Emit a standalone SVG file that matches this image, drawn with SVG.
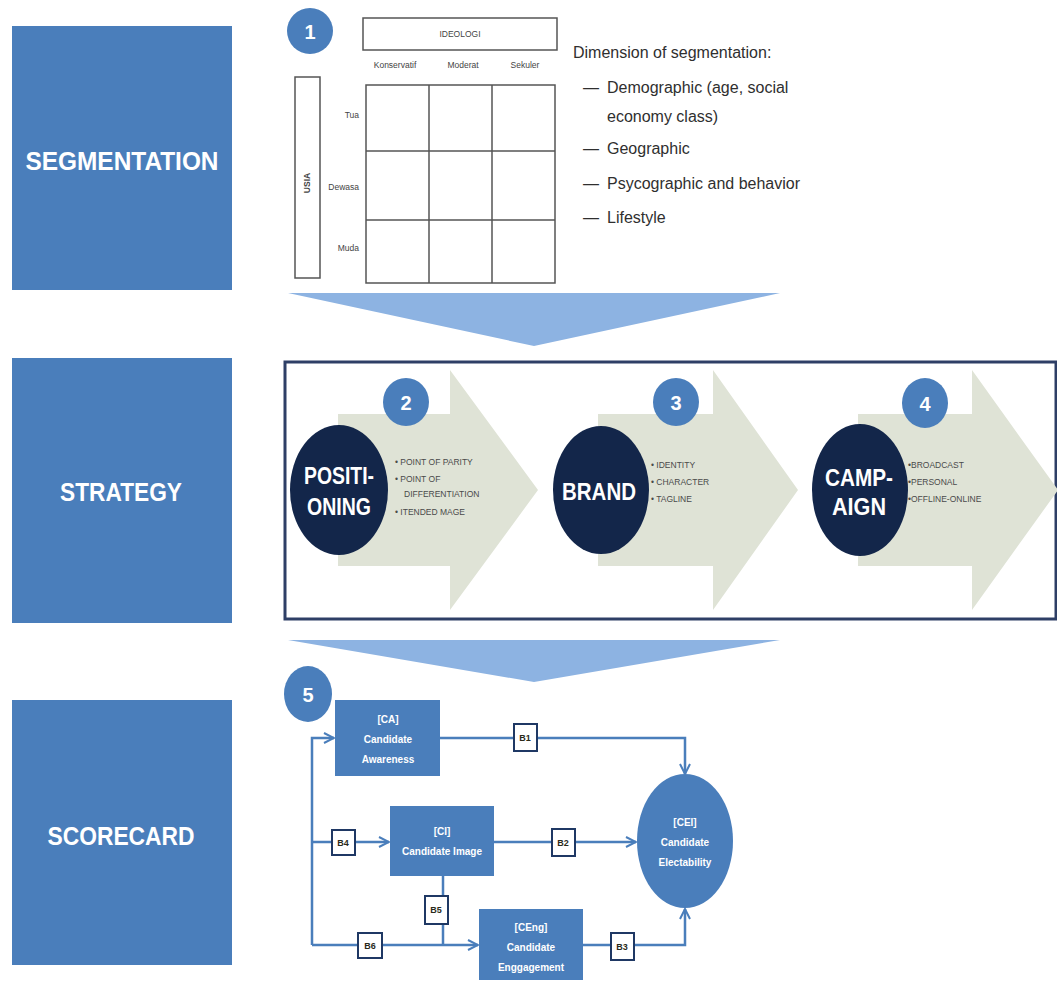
<svg xmlns="http://www.w3.org/2000/svg" width="1057" height="983" viewBox="0 0 1057 983">
  <defs>
    <style>
      .panel { fill: #4a7ebb; }
      .panel-title { font-family: "Liberation Sans", Arial, sans-serif; font-weight: bold; font-size: 25px; fill: #ffffff; text-anchor: middle; }
      .badge { fill: #4a7ebb; }
      .badge-num { font-family: "Liberation Sans", Arial, sans-serif; font-weight: bold; font-size: 20px; fill: #ffffff; text-anchor: middle; }
      .grid { fill: none; stroke: #555555; stroke-width: 1.5; }
      .tiny { font-family: "Liberation Sans", Arial, sans-serif; font-size: 8.5px; fill: #444444; }
      .dim { font-family: "Liberation Sans", Arial, sans-serif; font-size: 16px; fill: #2f2f2f; }
      .chevron { fill: #8db3e2; }
      .frame { fill: none; stroke: #2e3f66; stroke-width: 3; }
      .flow { fill: #dfe3d6; }
      .disc { fill: #13264a; }
      .disc-text { font-family: "Liberation Sans", Arial, sans-serif; font-weight: bold; font-size: 23px; fill: #ffffff; text-anchor: middle; }
      .bullet { font-family: "Liberation Sans", Arial, sans-serif; font-size: 8.5px; fill: #4a4a4a; }
      .box { fill: #4a7ebb; }
      .box-text { font-family: "Liberation Sans", Arial, sans-serif; font-weight: bold; font-size: 10px; fill: #ffffff; text-anchor: middle; }
      .link { fill: none; stroke: #4a7ebb; stroke-width: 2.5; }
      .tag { fill: #ffffff; stroke: #1f3864; stroke-width: 2; }
      .tag-text { font-family: "Liberation Sans", Arial, sans-serif; font-weight: bold; font-size: 9px; fill: #2a2a1a; text-anchor: middle; }
    </style>
    <marker id="arrow" viewBox="0 0 12 12" refX="11" refY="6" markerWidth="12" markerHeight="12" markerUnits="userSpaceOnUse" orient="auto">
      <path d="M1,1 L11,6 L1,11" fill="none" stroke="#4a7ebb" stroke-width="2"/>
    </marker>
  </defs>

  <rect width="1057" height="983" fill="#ffffff"/>

  <!-- Section panels on the left -->
  <g id="panel-segmentation">
    <rect class="panel" x="12" y="26" width="220" height="264"/>
    <text class="panel-title" x="122" y="170" textLength="193" lengthAdjust="spacingAndGlyphs">SEGMENTATION</text>
  </g>
  <g id="panel-strategy">
    <rect class="panel" x="12" y="358" width="220" height="265"/>
    <text class="panel-title" x="121" y="501" textLength="122" lengthAdjust="spacingAndGlyphs">STRATEGY</text>
  </g>
  <g id="panel-scorecard">
    <rect class="panel" x="12" y="700" width="220" height="265"/>
    <text class="panel-title" x="121" y="845" textLength="147" lengthAdjust="spacingAndGlyphs">SCORECARD</text>
  </g>

  <!-- Step 1: segmentation matrix -->
  <g id="step-1">
    <ellipse class="badge" cx="310" cy="31" rx="23" ry="23"/>
    <text class="badge-num" x="310" y="39">1</text>
  </g>
  <g id="segmentation-matrix">
    <rect class="grid" x="363" y="18" width="194" height="32"/>
    <text class="tiny" x="460" y="37" text-anchor="middle" font-size="7">IDEOLOGI</text>
    <text class="tiny" x="395" y="68" text-anchor="middle">Konservatif</text>
    <text class="tiny" x="463" y="68" text-anchor="middle">Moderat</text>
    <text class="tiny" x="525" y="68" text-anchor="middle">Sekuler</text>
    <rect class="grid" x="366" y="85" width="189" height="198"/>
    <line class="grid" x1="429" y1="85" x2="429" y2="283"/>
    <line class="grid" x1="492" y1="85" x2="492" y2="283"/>
    <line class="grid" x1="366" y1="151" x2="555" y2="151" stroke-width="1"/>
    <line class="grid" x1="366" y1="220" x2="555" y2="220" stroke-width="1"/>
    <text class="tiny" x="359" y="118" text-anchor="end">Tua</text>
    <text class="tiny" x="359" y="190" text-anchor="end">Dewasa</text>
    <text class="tiny" x="359" y="251" text-anchor="end">Muda</text>
    <rect class="grid" x="295" y="77" width="25" height="201"/>
    <text class="tiny" x="0" y="0" text-anchor="middle" font-weight="bold" transform="translate(310,183) rotate(-90)">USIA</text>
  </g>
  <g id="segmentation-dimensions">
    <text class="dim" x="573" y="58">Dimension of segmentation:</text>
    <text class="dim" x="583" y="93">—</text>
    <text class="dim" x="607" y="93">Demographic (age, social</text>
    <text class="dim" x="607" y="122">economy class)</text>
    <text class="dim" x="583" y="154">—</text>
    <text class="dim" x="607" y="154">Geographic</text>
    <text class="dim" x="583" y="189">—</text>
    <text class="dim" x="607" y="189">Psycographic and behavior</text>
    <text class="dim" x="583" y="223">—</text>
    <text class="dim" x="607" y="223">Lifestyle</text>
  </g>

  <!-- Down chevrons between sections -->
  <polygon id="chevron-1" class="chevron" points="288,293 780,293 534,346"/>
  <polygon id="chevron-2" class="chevron" points="288,640 780,640 534,682"/>

  <!-- Strategy frame with three flow steps -->
  <rect id="strategy-frame" class="frame" x="285" y="362" width="771" height="257"/>

  <g id="step-positioning">
    <polygon class="flow" points="338,414 450,414 450,370 538,490 450,610 450,566 338,566"/>
    <ellipse class="disc" cx="339" cy="490" rx="49" ry="65"/>
    <text class="disc-text" x="339" y="484" textLength="70" lengthAdjust="spacingAndGlyphs">POSITI-</text>
    <text class="disc-text" x="339" y="515" textLength="64" lengthAdjust="spacingAndGlyphs">ONING</text>
    <ellipse class="badge" cx="406" cy="402" rx="23" ry="24"/>
    <text class="badge-num" x="406" y="410">2</text>
    <text class="bullet" x="395" y="465">•  POINT OF PARITY</text>
    <text class="bullet" x="395" y="482">•  POINT OF</text>
    <text class="bullet" x="404" y="497">DIFFERENTIATION</text>
    <text class="bullet" x="395" y="515">•  ITENDED MAGE</text>
  </g>

  <g id="step-brand">
    <polygon class="flow" points="598,414 713,414 713,370 798,490 713,610 713,566 598,566"/>
    <ellipse class="disc" cx="601" cy="490" rx="48" ry="64"/>
    <text class="disc-text" x="599" y="500" textLength="74" lengthAdjust="spacingAndGlyphs">BRAND</text>
    <ellipse class="badge" cx="676" cy="402" rx="23" ry="24"/>
    <text class="badge-num" x="676" y="410">3</text>
    <text class="bullet" x="651" y="468">•  IDENTITY</text>
    <text class="bullet" x="651" y="485">•  CHARACTER</text>
    <text class="bullet" x="651" y="502">•  TAGLINE</text>
  </g>

  <g id="step-campaign">
    <polygon class="flow" points="858,414 972,414 972,370 1058,490 972,610 972,566 858,566"/>
    <ellipse class="disc" cx="860" cy="490" rx="48" ry="66"/>
    <text class="disc-text" x="859" y="486" textLength="68" lengthAdjust="spacingAndGlyphs">CAMP-</text>
    <text class="disc-text" x="859" y="515" textLength="54" lengthAdjust="spacingAndGlyphs">AIGN</text>
    <ellipse class="badge" cx="925" cy="403" rx="23" ry="25"/>
    <text class="badge-num" x="925" y="411">4</text>
    <text class="bullet" x="908" y="468">•BROADCAST</text>
    <text class="bullet" x="908" y="485">•PERSONAL</text>
    <text class="bullet" x="908" y="502">•OFFLINE-ONLINE</text>
  </g>

  <!-- Scorecard model -->
  <g id="step-5">
    <ellipse class="badge" cx="308" cy="694" rx="24" ry="28"/>
    <text class="badge-num" x="308" y="702">5</text>
  </g>

  <g id="connectors">
    <path class="link" d="M440,738 H685 V774" marker-end="url(#arrow)"/>
    <path class="link" d="M494,842 H636" marker-end="url(#arrow)"/>
    <path class="link" d="M583,945 H685 V909" marker-end="url(#arrow)"/>
    <path class="link" d="M312,945 V738 H334" marker-end="url(#arrow)"/>
    <path class="link" d="M312,842 H389" marker-end="url(#arrow)"/>
    <path class="link" d="M312,945 H478" marker-end="url(#arrow)"/>
    <path class="link" d="M443,876 V945"/>
    <rect class="tag" x="514" y="724" width="23" height="27"/>
    <text class="tag-text" x="525" y="741">B1</text>
    <rect class="tag" x="552" y="829" width="23" height="27"/>
    <text class="tag-text" x="563" y="846">B2</text>
    <rect class="tag" x="611" y="933" width="23" height="27"/>
    <text class="tag-text" x="622" y="950">B3</text>
    <rect class="tag" x="332" y="830" width="23" height="25"/>
    <text class="tag-text" x="343" y="846">B4</text>
    <rect class="tag" x="425" y="896" width="23" height="28"/>
    <text class="tag-text" x="436" y="913">B5</text>
    <rect class="tag" x="358" y="933" width="24" height="25"/>
    <text class="tag-text" x="370" y="949">B6</text>
  </g>

  <g id="node-ca">
    <rect class="box" x="335" y="700" width="105" height="76"/>
    <text class="box-text" x="388" y="723">[CA]</text>
    <text class="box-text" x="388" y="743">Candidate</text>
    <text class="box-text" x="388" y="763">Awareness</text>
  </g>
  <g id="node-ci">
    <rect class="box" x="390" y="806" width="104" height="70"/>
    <text class="box-text" x="442" y="835">[CI]</text>
    <text class="box-text" x="442" y="855">Candidate Image</text>
  </g>
  <g id="node-ceng">
    <rect class="box" x="479" y="909" width="104" height="71"/>
    <text class="box-text" x="531" y="931">[CEng]</text>
    <text class="box-text" x="531" y="951">Candidate</text>
    <text class="box-text" x="531" y="971">Enggagement</text>
  </g>
  <g id="node-cel">
    <ellipse class="box" cx="685" cy="841" rx="48" ry="67"/>
    <text class="box-text" x="685" y="826">[CEl]</text>
    <text class="box-text" x="685" y="846">Candidate</text>
    <text class="box-text" x="685" y="866">Electability</text>
  </g>
</svg>
